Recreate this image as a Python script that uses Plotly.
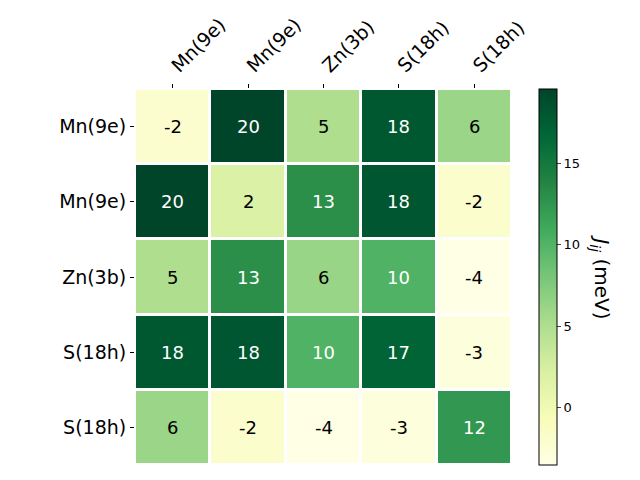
import plotly.graph_objects as go

labels = ["Mn(9e)", "Mn(9e)", "Zn(3b)", "S(18h)", "S(18h)"]
values = [
    [-2.1, 19.6, 5.0, 18.0, 6.1],
    [19.6, 2.0, 13.0, 18.2, -2.0],
    [5.0, 13.0, 6.2, 10.2, -3.55],
    [18.0, 18.2, 10.2, 17.0, -2.9],
    [6.1, -2.0, -3.55, -2.9, 12.4],
]

idx = list(range(len(labels)))
zmin = min(min(r) for r in values)
zmax = max(max(r) for r in values)

fig = go.Figure(go.Heatmap(
    z=values, x=idx, y=idx,
    colorscale="YlGn", zmin=zmin, zmax=zmax,
    xgap=3, ygap=3,
    colorbar=dict(
        x=1.0716, xanchor="left", xpad=0, ypad=0,
        y=0.5, yanchor="middle", len=1, lenmode="fraction",
        thickness=18, outlinewidth=1, outlinecolor="black",
        tickvals=[0, 5, 10, 15], ticks="outside", ticklen=4,
        tickfont=dict(size=13, color="black"),
    ),
    hoverinfo="skip",
))

mid = (zmin + zmax) / 2
annotations = []
for i, row in enumerate(values):
    for j, v in enumerate(row):
        annotations.append(dict(
            x=j, y=i, xref="x", yref="y", showarrow=False,
            text=str(int(round(v))),
            font=dict(size=18, color="white" if v > mid else "black"),
        ))
annotations.append(dict(
    x=1.235, y=0.5, xref="paper", yref="paper", showarrow=False,
    text="<i>J</i><sub><i>ij</i></sub> (meV)", textangle=90,
    font=dict(size=20, color="black"), xanchor="center", yanchor="middle",
))

fig.update_layout(
    width=640, height=480,
    margin=dict(l=135, r=128, t=89, b=15),
    plot_bgcolor="white", paper_bgcolor="white",
    font=dict(family="DejaVu Sans", color="black"),
    annotations=annotations,
    xaxis=dict(
        side="top", tickvals=idx, ticktext=labels, tickangle=-45,
        ticks="outside", ticklen=4, tickcolor="black",
        tickfont=dict(size=19), showgrid=False, zeroline=False,
        range=[-0.5, 4.5],
    ),
    yaxis=dict(
        tickvals=idx, ticktext=labels, autorange=False, range=[4.5, -0.5],
        ticks="outside", ticklen=4, tickcolor="black",
        tickfont=dict(size=19), showgrid=False, zeroline=False,
    ),
)

fig.write_html("out.html")
